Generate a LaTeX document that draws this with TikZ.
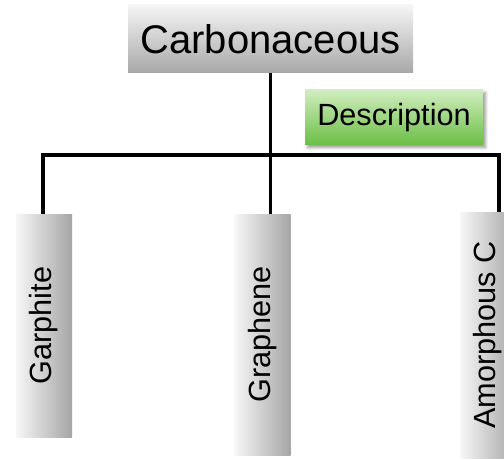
\documentclass[tikz,border=0pt]{standalone}
\usepackage{fontspec}
\setmainfont{Liberation Sans}
\usetikzlibrary{shadows.blur}

\definecolor{roottop}{RGB}{245,245,245}
\definecolor{rootbot}{RGB}{168,168,168}
\definecolor{leafleft}{RGB}{247,247,247}
\definecolor{leafright}{RGB}{165,165,165}
\definecolor{desctop}{RGB}{208,237,190}
\definecolor{descbot}{RGB}{108,190,70}

\begin{document}
\begin{tikzpicture}[x=0.75pt,y=0.75pt,yscale=-1,xscale=1,
    rootbox/.style={top color=roottop,bottom color=rootbot,inner sep=0pt,
        minimum width=213.75pt,minimum height=51pt,font=\fontsize{30}{36}\selectfont},
    descbox/.style={top color=desctop,bottom color=descbot,
        inner sep=0pt,minimum width=133.5pt,minimum height=41.25pt,
        font=\fontsize{23}{28}\selectfont,
        blur shadow={shadow xshift=2pt,shadow yshift=-2pt,shadow opacity=40,shadow blur steps=6}},
    leafbox/.style={left color=leafleft,right color=leafright,inner sep=0pt,
        minimum width=42pt},
    leaftext/.style={rotate=90,inner sep=0pt,font=\fontsize{23}{28}\selectfont},
    branch/.style={line width=2.7pt}]

    \useasboundingbox (0,0) rectangle (504,460);

    % Text Node
    \draw (270.5,39) node [rootbox] (carb) {Carbonaceous};
    % Leaf boxes
    \draw (44,325.5) node [leafbox,minimum height=167.25pt] (garph) {};
    \draw (262.5,334.5) node [leafbox,minimum height=180.75pt] (graph) {};
    \draw (488,335) node [leafbox,minimum height=184.5pt] (amor) {};
    % Text Node
    \draw (garph.center) node [leaftext] (garph-t) {Garphite};
    % Text Node
    \draw (graph.center) node [leaftext] (graph-t) {Graphene};
    % Text Node
    \draw (amor.center) node [leaftext] (amor-t) {Amorphous C};

    \coordinate (jl) at (42.7,155);
    \coordinate (jr) at (499,155);

    \draw[branch] (carb.south) -- (carb.south |- graph.north) ;
    \draw[branch] (garph.north -| jl) -- (jl) -- (jr) -- (jr |- amor.north) ;

    % Text Node
    \draw (394,117.5) node [descbox] (desc) {Description};

\end{tikzpicture}
\end{document}
